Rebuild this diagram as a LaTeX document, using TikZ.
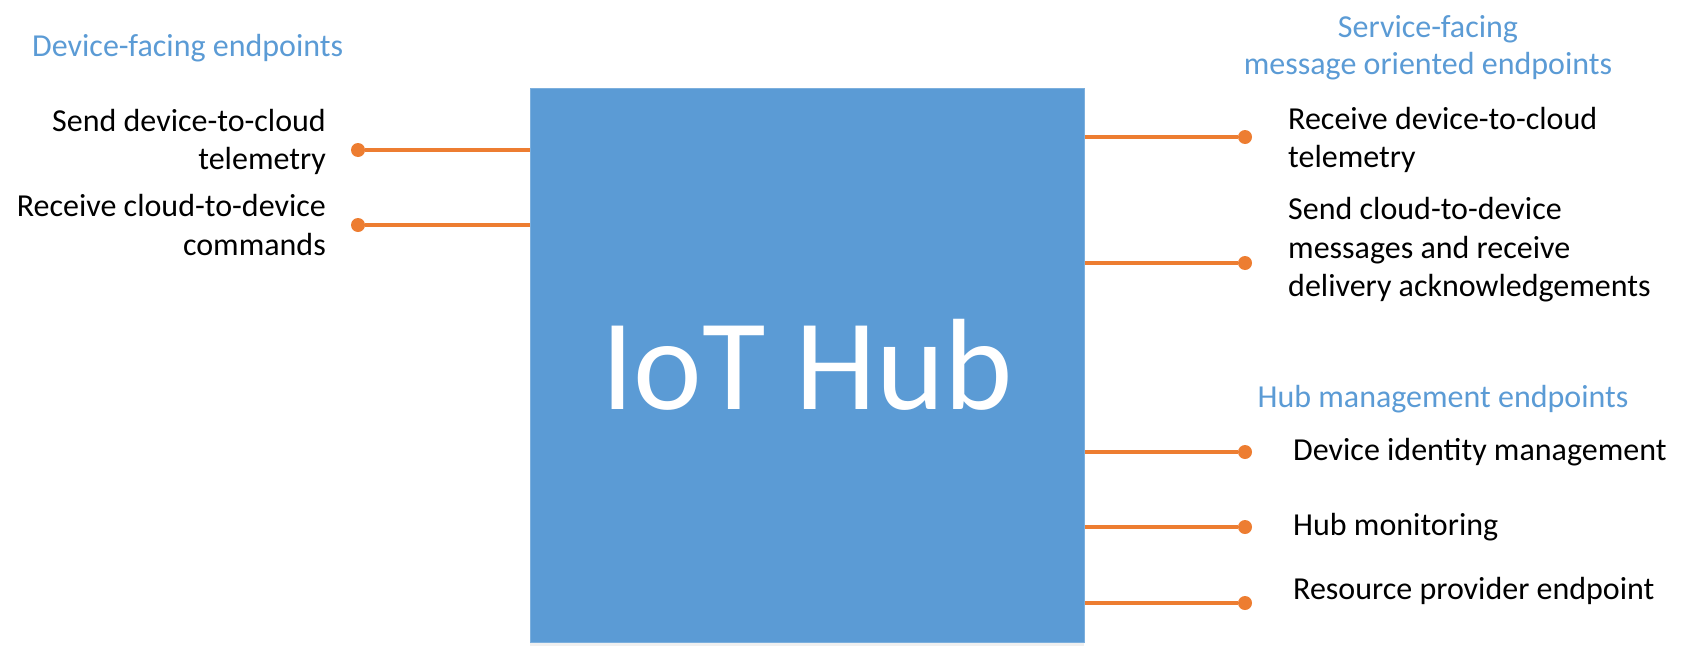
\documentclass[tikz,border=0pt]{standalone}
\usepackage{fontspec}
\setmainfont{Carlito}
\usetikzlibrary{shadows}
\definecolor{hubblue}{HTML}{5B9BD5}
\definecolor{headblue}{HTML}{5B9BD5}
\definecolor{conorange}{HTML}{ED7D31}
\begin{document}
\begin{tikzpicture}[x=1pt,y=-1pt,
  hubbox/.style={draw=hubblue!80!white,line width=1pt,fill=hubblue,minimum width=554pt,minimum height=554pt,inner sep=0pt,text=white,font=\fontsize{130}{150}\selectfont,
    drop shadow={opacity=0.12,shadow xshift=0pt,shadow yshift=-4pt}},
  dotnode/.style={circle,fill=conorange,inner sep=0pt,minimum size=14pt},
  conn/.style={draw=conorange,line width=4.3pt},
  lbl/.style={inner sep=0pt,font=\fontsize{32}{38.6}\selectfont,text=black},
  head/.style={inner sep=0pt,font=\fontsize{32}{37}\selectfont,text=headblue,align=center}]
\useasboundingbox (0,0) rectangle (1683,656);
\node[hubbox] (hub) at (807,365) {IoT Hub};
% left side
\node[dotnode] (l1) at (358,150) {};
\node[dotnode] (l2) at (358,225) {};
\draw[conn] (hub.west |- l1) -- (l1);
\draw[conn] (hub.west |- l2) -- (l2);
\node[lbl,anchor=east,align=right] (tl1) at (326,142) {Send device-to-cloud\\telemetry};
\node[lbl,anchor=east,align=right] (tl2) at (326,225) {Receive cloud-to-device\\commands};
\node[head,anchor=west] (hl) at (32,48) {Device-facing endpoints};
% right side
\node[dotnode] (r1) at (1245,137) {};
\node[dotnode] (r2) at (1245,263) {};
\node[dotnode] (r3) at (1245,452) {};
\node[dotnode] (r4) at (1245,527) {};
\node[dotnode] (r5) at (1245,603) {};
\foreach \d in {r1,r2,r3,r4,r5}{\draw[conn] (hub.east |- \d) -- (\d);}
\node[head] (hr1) at (1428,48) {Service-facing\\message oriented endpoints};
\node[head] (hr2) at (1443,399) {Hub management endpoints};
\node[lbl,anchor=west,align=left] (tr1) at (1288,140) {Receive device-to-cloud\\telemetry};
\node[lbl,anchor=west,align=left] (tr2) at (1288,250) {Send cloud-to-device\\messages and receive\\delivery acknowledgements};
\node[lbl,anchor=west] (tr3) at (1293,452) {Device identity management};
\node[lbl,anchor=west] (tr4) at (1293,527) {Hub monitoring};
\node[lbl,anchor=west] (tr5) at (1293,591) {Resource provider endpoint};
\end{tikzpicture}
\end{document}
